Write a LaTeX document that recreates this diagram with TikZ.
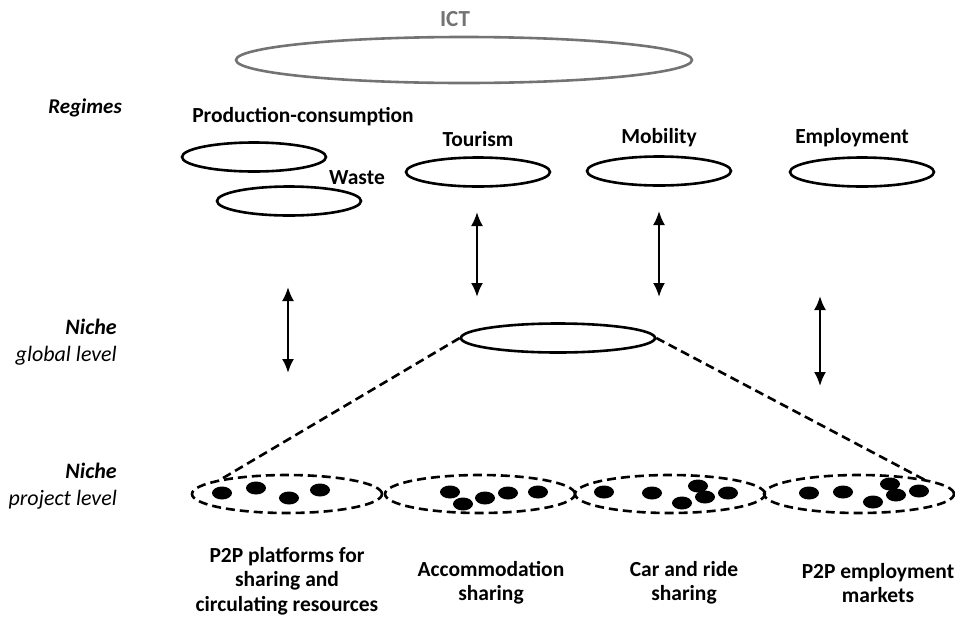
\documentclass[tikz,border=0pt]{standalone}
\usepackage{fontspec}
\setmainfont{Carlito}
\usetikzlibrary{shapes.geometric,arrows.meta}
\begin{document}
\begin{tikzpicture}[x=1pt,y=-1pt,
  lbl/.style={font=\fontsize{21.5}{24.5}\selectfont\bfseries, align=center, inner sep=0pt},
  side/.style={font=\fontsize{22}{27}\selectfont\itshape, align=right, inner sep=0pt, anchor=east},
  regime/.style={ellipse, draw, line width=2.6pt, minimum width=144pt, minimum height=29pt, inner sep=0pt},
  project/.style={ellipse, draw, line width=2.6pt, dash pattern=on 9pt off 5pt, minimum width=190pt, minimum height=38pt, inner sep=0pt},
  dot/.style={ellipse, fill=black, minimum width=20pt, minimum height=13pt, inner sep=0pt},
  link/.style={line width=2.2pt, {Latex[length=14pt,width=12pt]}-{Latex[length=14pt,width=12pt]}},
  zoomline/.style={line width=2.6pt, dash pattern=on 9pt off 5pt}]
\useasboundingbox (0,0) rectangle (955,619);

% landscape level
\node[ellipse, draw=black!55, line width=2.6pt, minimum width=456pt, minimum height=46pt, inner sep=0pt] (ict) at (464,60) {};
\node[font=\fontsize{23}{26}\selectfont\bfseries, text=black!55, inner sep=0pt] (ictlbl) at (455,19) {ICT};

% regimes
\node[font=\fontsize{21}{24}\selectfont\bfseries\itshape, inner sep=0pt, anchor=east] (regimes) at (122,108) {Regimes};
\node[lbl] (prodlbl) at (303,117) {Production-consumption};
\node[regime] (prod) at (254,157) {};
\node[lbl] (wastelbl) at (357,178) {Waste};
\node[regime] (waste) at (289,201) {};
\node[lbl] (tourlbl) at (478,139) {Tourism};
\node[regime] (tour) at (478,172) {};
\node[lbl] (moblbl) at (659,138) {Mobility};
\node[regime] (mob) at (659,171) {};
\node[lbl] (emplbl) at (852,138) {Employment};
\node[regime] (emp) at (862,172) {};

% niche levels
\node[side] (globallbl) at (117,342) {\textbf{Niche}\\global level};
\node[side] (projectlbl) at (117,486) {\textbf{Niche}\\project level};
\node[ellipse, draw, line width=2.6pt, minimum width=194pt, minimum height=29pt, inner sep=0pt] (niche) at (558,338) {};

% project level clusters
\node[project] (p1) at (287,494) {};
\node[project] (p2) at (480,494) {};
\node[project] (p3) at (670,494) {};
\node[project] (p4) at (859,494) {};

\foreach \n/\x/\y in {a/222/493, b/256/488, c/289/498, d/320/490,
  e/450/492, f/463/504, g/485/498, h/508/493, i/538/492,
  j/604/492, k/652/493, l/698/486, m/705/497, n/682/503, o/728/493,
  p/809/493, q/843/492, r/890/484, s/896/495, t/873/502, u/919/491}
  \node[dot] (dot\n) at (\x,\y) {};

% zoom from the global niche to the projects
\coordinate (zl) at (218,481);
\coordinate (zr) at (925,480);
\draw[zoomline] (niche.west) -- (zl);
\draw[zoomline] (niche.east) -- (zr);

% interactions between regimes and niches
\coordinate (a1t) at (288,287); \coordinate (a1b) at (288,373);
\coordinate (a2t) at (477,212); \coordinate (a2b) at (477,297);
\coordinate (a3t) at (659,211); \coordinate (a3b) at (659,297);
\coordinate (a4t) at (820,296); \coordinate (a4b) at (820,386);
\draw[link] (a1t) -- (a1b);
\draw[link] (a2t) -- (a2b);
\draw[link] (a3t) -- (a3b);
\draw[link] (a4t) -- (a4b);

% project labels
\node[lbl] (l1) at (287,581) {P2P platforms for\\sharing and\\circulating resources};
\node[lbl] (l2) at (491,583) {Accommodation\\sharing};
\node[lbl] (l3) at (684,583) {Car and ride\\sharing};
\node[lbl] (l4) at (878,583) {P2P employment\\markets};
\end{tikzpicture}
\end{document}
